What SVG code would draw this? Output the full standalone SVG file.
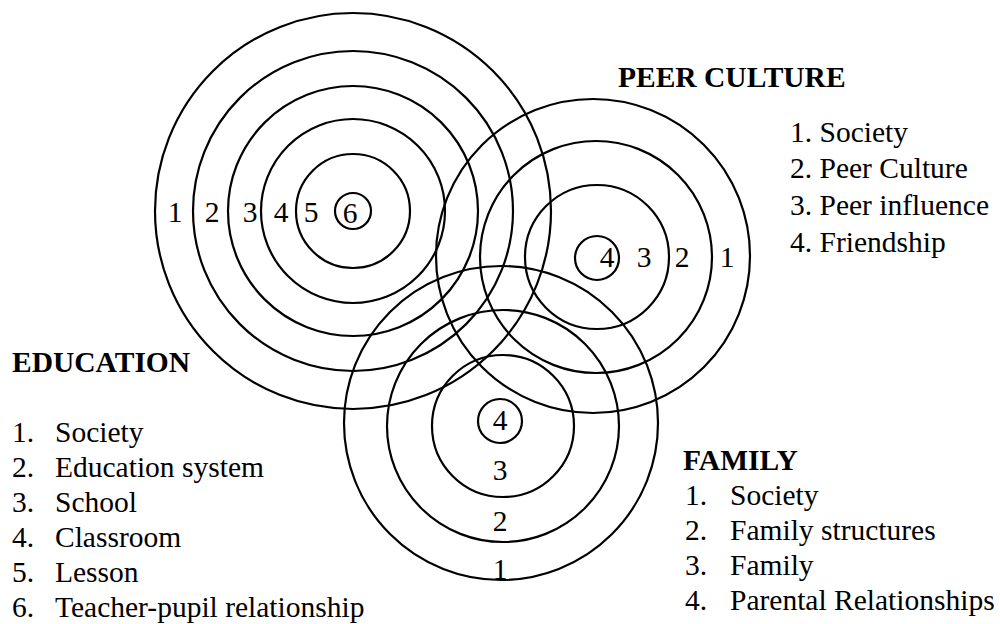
<svg xmlns="http://www.w3.org/2000/svg" width="1000" height="624" viewBox="0 0 1000 624">
<style>
.ring{fill:none;stroke:#000;stroke-width:2.2}
text{font-family:"Liberation Serif","Times New Roman",serif;font-size:29.5px;fill:#000}
.h{font-weight:bold}
.n{text-anchor:middle}
</style>
<rect width="1000" height="624" fill="#fff"/>
<g id="education-circles">
<circle class="ring" cx="353" cy="211" r="198"/>
<circle class="ring" cx="353" cy="211" r="160"/>
<circle class="ring" cx="353" cy="211" r="125"/>
<circle class="ring" cx="353" cy="211" r="92"/>
<circle class="ring" cx="353" cy="211" r="57"/>
<circle class="ring" cx="353" cy="211" r="18"/>
<text class="n" x="175" y="222">1</text>
<text class="n" x="212" y="222">2</text>
<text class="n" x="250" y="222">3</text>
<text class="n" x="281" y="222">4</text>
<text class="n" x="311" y="222">5</text>
<text class="n" x="350" y="223">6</text>
</g>
<g id="peer-circles">
<circle class="ring" cx="593" cy="256" r="157"/>
<circle class="ring" cx="596" cy="257" r="116"/>
<circle class="ring" cx="597" cy="257" r="72"/>
<circle class="ring" cx="597" cy="258" r="22"/>
<text class="n" x="607" y="267">4</text>
<text class="n" x="644" y="267">3</text>
<text class="n" x="682" y="267">2</text>
<text class="n" x="727" y="267">1</text>
</g>
<g id="family-circles">
<circle class="ring" cx="501" cy="423" r="157"/>
<circle class="ring" cx="503" cy="426" r="116"/>
<circle class="ring" cx="503" cy="426" r="71"/>
<circle class="ring" cx="500" cy="421" r="22"/>
<text class="n" x="500" y="430">4</text>
<text class="n" x="500" y="480">3</text>
<text class="n" x="500" y="531">2</text>
<text class="n" x="500" y="579">1</text>
</g>
<g id="education-legend">
<text class="h" x="12" y="372">EDUCATION</text>
<text x="12" y="442">1.<tspan x="55">Society</tspan></text>
<text x="12" y="477">2.<tspan x="55">Education system</tspan></text>
<text x="12" y="512">3.<tspan x="55">School</tspan></text>
<text x="12" y="547">4.<tspan x="55">Classroom</tspan></text>
<text x="12" y="582">5.<tspan x="55">Lesson</tspan></text>
<text x="12" y="617">6.<tspan x="55">Teacher-pupil relationship</tspan></text>
</g>
<g id="peer-legend">
<text class="h" x="618" y="87">PEER CULTURE</text>
<text x="790" y="142">1. Society</text>
<text x="790" y="178">2. Peer Culture</text>
<text x="790" y="215">3. Peer influence</text>
<text x="790" y="252">4. Friendship</text>
</g>
<g id="family-legend">
<text class="h" x="683" y="470">FAMILY</text>
<text x="685" y="505">1.<tspan x="730">Society</tspan></text>
<text x="685" y="540">2.<tspan x="730">Family structures</tspan></text>
<text x="685" y="575">3.<tspan x="730">Family</tspan></text>
<text x="685" y="610">4.<tspan x="730">Parental Relationships</tspan></text>
</g>
<g id="connectors"></g>
</svg>
